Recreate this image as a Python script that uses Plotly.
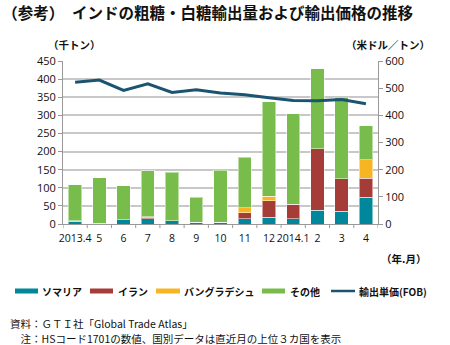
import plotly.graph_objects as go

months = ["2013.4", "5", "6", "7", "8", "9", "10", "11", "12", "2014.1", "2", "3", "4"]
somalia = [6, 0, 12, 14, 9, 5, 5, 14, 19, 14, 38, 35, 74]
iran = [0, 2, 0, 5, 0, 0, 0, 17, 45, 41, 170, 90, 52]
bangladesh = [3, 0, 0, 1, 0, 0, 0, 14, 13, 0, 0, 0, 52]
others = [99, 126, 93, 127, 134, 69, 143, 139, 260, 249, 221, 225, 93]
price = [522, 530, 492, 516, 484, 494, 482, 476, 465, 455, 454, 458, 443]

FONT = "Noto Sans CJK JP"
xs = list(range(len(months)))

fig = go.Figure()
series = [("ソマリア", somalia, "#00879B"), ("イラン", iran, "#A63C38"),
          ("バングラデシュ", bangladesh, "#F7B523"), ("その他", others, "#78BC4B")]
for name, vals, col in series:
    fig.add_trace(go.Bar(x=xs, y=vals, name=name, marker_color=col,
                         marker_line=dict(color="rgba(255,255,255,0.5)", width=1),
                         width=0.55))
LINE_COL = "#1B5470"
fig.add_trace(go.Scatter(x=xs, y=price, name="輸出単価(FOB)", yaxis="y2", mode="lines",
                         line=dict(color=LINE_COL, width=3)))

fig.update_layout(
    width=450, height=345, barmode="stack", bargap=0.45,
    margin=dict(l=63, r=72, t=61, b=121),
    paper_bgcolor="white", plot_bgcolor="white",
    font=dict(family=FONT, size=11, color="#111"),
    showlegend=False,
    xaxis=dict(tickmode="array", tickvals=xs, ticktext=months, range=[-0.5, 12.5],
               tickangle=0, showgrid=False, showline=True, linecolor="#999", linewidth=1,
               ticks="", ticklabelstandoff=4,
               tickfont=dict(family="Open Sans", size=10.5, color="#111")),
    yaxis=dict(range=[0, 450], dtick=50, showgrid=True, gridcolor="#C8C8C8", gridwidth=1.5,
               showline=True, linecolor="#999", ticks="outside", ticklen=4, tickcolor="#999",
               tickfont=dict(family="Open Sans", size=11, color="#111"), zeroline=False),
    yaxis2=dict(range=[0, 600], dtick=100, overlaying="y", side="right", showgrid=False,
                showline=True, linecolor="#999", ticks="outside", ticklen=4, tickcolor="#999",
                tickfont=dict(family="Open Sans", size=11, color="#111"), zeroline=False),
    title=dict(text="<b>（参考）　インドの粗糖・白糖輸出量および輸出価格の推移</b>",
               x=0.005, xanchor="left", xref="container", y=0.962, yanchor="middle",
               yref="container", font=dict(size=15.5, family=FONT, color="#111")),
)

# category separator ticks on x axis
for i in range(len(months) + 1):
    fig.add_shape(type="line", xref="x", yref="paper", x0=i - 0.5, x1=i - 0.5,
                  y0=0, y1=-0.025, line=dict(color="#999", width=1))

def px(x):
    return (x - 63) / 315

def py(y):
    return (224 - y) / 163

# manual legend (single row, as in the reference)
leg_y = 291
legend_items = [
    ("rect", "#00879B", 15, 38, "ソマリア", 40),
    ("rect", "#A63C38", 90, 113, "イラン", 116),
    ("rect", "#F7B523", 156, 180, "バングラデシュ", 182),
    ("rect", "#78BC4B", 262, 285, "その他", 288),
    ("line", LINE_COL, 331, 355, "輸出単価(FOB)", 357),
]
for kind, col, x0, x1, label, tx in legend_items:
    if kind == "rect":
        fig.add_shape(type="rect", xref="paper", yref="paper", x0=px(x0), x1=px(x1),
                      y0=py(leg_y + 2.5), y1=py(leg_y - 2.5), fillcolor=col, line=dict(width=0))
    else:
        fig.add_shape(type="line", xref="paper", yref="paper", x0=px(x0), x1=px(x1),
                      y0=py(leg_y), y1=py(leg_y), line=dict(color=col, width=2.5))
    fig.add_annotation(text="<b>" + label + "</b>", xref="paper", yref="paper",
                       x=px(tx), y=py(leg_y), xanchor="left", yanchor="middle",
                       showarrow=False, font=dict(size=10, family=FONT, color="#111"))

ann = [
    ("<b>（千トン）</b>", 74, 45, "center"),
    ("<b>（米ドル／トン）</b>", 388, 45, "center"),
    ("<b>（年.月）</b>", 403, 258, "center"),
    ("資料：ＧＴＩ社「Global Trade Atlas」", 8, 323, "left"),
    ("　注：HSコード1701の数値、国別データは直近月の上位３カ国を表示", 8, 338, "left"),
]
for text, x, y, xa in ann:
    fig.add_annotation(text=text, xref="paper", yref="paper",
                       x=px(x), y=py(y), xanchor=xa, yanchor="middle", showarrow=False,
                       font=dict(size=10.5, family=FONT, color="#111"))

fig.write_html("out.html")
